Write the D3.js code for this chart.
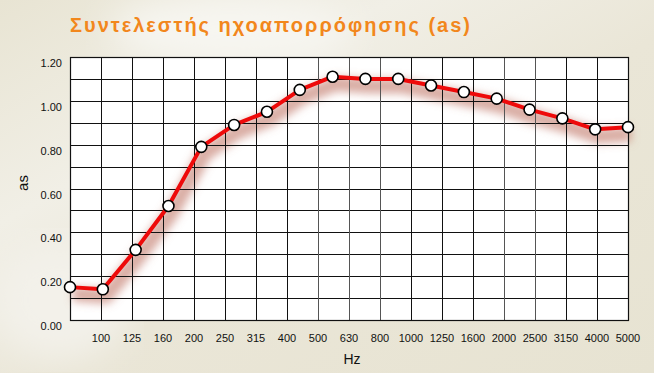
<!DOCTYPE html>
<html>
<head>
<meta charset="utf-8">
<script src="https://cdn.jsdelivr.net/npm/d3@7"></script>
<style>
    body { margin: 0; background: #e9e5d5; }
    svg { display: block; }
</style>
</head>
<body>
<div class="chart"></div>
<script>
//Data
var title = "Συντελεστής ηχοαπορρόφησης (as)";
var frequencies = ["100", "125", "160", "200", "250", "315", "400", "500", "630", "800",
    "1000", "1250", "1600", "2000", "2500", "3150", "4000", "5000"];
var absorption = [0.15, 0.14, 0.32, 0.52, 0.79, 0.89, 0.95, 1.05, 1.11, 1.10,
    1.10, 1.07, 1.04, 1.01, 0.96, 0.92, 0.87, 0.88];
var yTicks = [0, 0.2, 0.4, 0.6, 0.8, 1.0, 1.2];
var yGrid = d3.range(0, 13).map(d => d / 10);

var chart = {
    width: 654,
    height: 373,
    margin: { left: 70, top: 57, right: 26, bottom: 53 },
    init() {
        this.innerW = this.width - this.margin.left - this.margin.right;
        this.innerH = this.height - this.margin.top - this.margin.bottom;

        //Scales: points use their own spacing, the axis has one empty slot at the left
        this.x = d3.scalePoint().domain(frequencies).range([0, this.innerW]);
        this.xAxis = d3.scalePoint().domain([""].concat(frequencies)).range([0, this.innerW]);
        this.y = d3.scaleLinear().domain([0, 1.2]).range([this.innerH, 0]);

        this.svg = d3.select(".chart")
            .append("svg")
            .attr("width", this.width)
            .attr("height", this.height);

        this.drawBackground();
        this.g = this.svg.append("g")
            .attr("transform", `translate(${this.margin.left},${this.margin.top})`);
    },
    drawBackground() {
        const defs = this.svg.append("defs");
        const grad = defs.append("linearGradient")
            .attr("id", "bg").attr("x1", "0").attr("y1", "0").attr("x2", "1").attr("y2", "1");
        grad.append("stop").attr("offset", "0%").attr("stop-color", "#e8e4d3");
        grad.append("stop").attr("offset", "30%").attr("stop-color", "#f1efe6");
        grad.append("stop").attr("offset", "55%").attr("stop-color", "#eae6d7");
        grad.append("stop").attr("offset", "100%").attr("stop-color", "#e7e3d2");

        defs.append("filter").attr("id", "soft")
            .append("feGaussianBlur").attr("stdDeviation", 18);
        defs.append("filter").attr("id", "shadow")
            .attr("x", "-10%").attr("y", "-10%").attr("width", "120%").attr("height", "130%")
            .append("feGaussianBlur").attr("stdDeviation", 4);

        this.svg.append("rect")
            .attr("width", this.width)
            .attr("height", this.height)
            .attr("fill", "url(#bg)");

        //Lighter patches of the paper texture
        this.svg.append("ellipse")
            .attr("cx", 230).attr("cy", 30).attr("rx", 120).attr("ry", 35)
            .attr("fill", "#f7f6f1").attr("filter", "url(#soft)");
        this.svg.append("ellipse")
            .attr("cx", 60).attr("cy", 300).attr("rx", 70).attr("ry", 60)
            .attr("fill", "#f3f1ea").attr("filter", "url(#soft)");
    },
    drawTitle() {
        this.svg.append("text")
            .attr("x", 70)
            .attr("y", 32)
            .attr("font-family", "Liberation Sans, Arial, sans-serif")
            .attr("font-size", 20)
            .attr("font-weight", "bold")
            .attr("letter-spacing", 2)
            .attr("fill", "#f2871c")
            .text(title);
    },
    drawPlot() {
        const g = this.g;
        g.append("rect")
            .attr("width", this.innerW)
            .attr("height", this.innerH)
            .attr("fill", "#ffffff");

        //Blurred shadow under the line
        const line = d3.line()
            .x((d, i) => this.x(frequencies[i]))
            .y(d => this.y(d));
        g.append("path")
            .datum(absorption)
            .attr("d", line)
            .attr("fill", "none")
            .attr("stroke", "#c07565")
            .attr("stroke-opacity", 0.6)
            .attr("stroke-width", 15)
            .attr("stroke-linejoin", "round")
            .attr("transform", "translate(3,7)")
            .attr("filter", "url(#shadow)");

        //Grid
        g.selectAll("line.h")
            .data(yGrid)
            .join("line")
            .attr("class", "h")
            .attr("x1", 0).attr("x2", this.innerW)
            .attr("y1", d => Math.round(this.y(d)) + 0.5)
            .attr("y2", d => Math.round(this.y(d)) + 0.5)
            .attr("stroke", "#111")
            .attr("stroke-width", 1);
        g.selectAll("line.v")
            .data(this.xAxis.domain())
            .join("line")
            .attr("class", "v")
            .attr("y1", 0).attr("y2", this.innerH)
            .attr("x1", d => Math.round(this.xAxis(d)) + 0.5)
            .attr("x2", d => Math.round(this.xAxis(d)) + 0.5)
            .attr("stroke", (d, i) => (i >= 8 && i <= 10) || (i >= 14 && i <= 15) ? "#555" : "#111")
            .attr("stroke-width", 1);
        g.append("rect")
            .attr("x", 0.5).attr("y", 0.5)
            .attr("width", this.innerW).attr("height", this.innerH)
            .attr("fill", "none")
            .attr("stroke", "#111")
            .attr("stroke-width", 1.2);

        //Line and markers
        g.append("path")
            .datum(absorption)
            .attr("d", line)
            .attr("fill", "none")
            .attr("stroke", "#ee0a0a")
            .attr("stroke-width", 4)
            .attr("stroke-linejoin", "round");
        g.selectAll("circle")
            .data(absorption)
            .join("circle")
            .attr("cx", (d, i) => this.x(frequencies[i]))
            .attr("cy", d => this.y(d))
            .attr("r", 5.5)
            .attr("fill", "#ffffff")
            .attr("stroke", "#000")
            .attr("stroke-width", 1.6);
    },
    drawAxes() {
        const g = this.g;
        const font = "Liberation Sans, Arial, sans-serif";

        g.selectAll("text.ytick")
            .data(yTicks)
            .join("text")
            .attr("class", "ytick")
            .attr("x", -8)
            .attr("y", d => this.y(d) + 10)
            .attr("text-anchor", "end")
            .attr("font-family", font)
            .attr("font-size", 11)
            .attr("fill", "#111")
            .text(d => d.toFixed(2));

        g.selectAll("text.xtick")
            .data(frequencies)
            .join("text")
            .attr("class", "xtick")
            .attr("x", d => this.xAxis(d))
            .attr("y", this.innerH + 22)
            .attr("text-anchor", "middle")
            .attr("font-family", font)
            .attr("font-size", 11)
            .attr("fill", "#111")
            .text(d => d);

        this.svg.append("text")
            .attr("x", 352)
            .attr("y", 364)
            .attr("text-anchor", "middle")
            .attr("font-family", font)
            .attr("font-size", 14)
            .attr("fill", "#111")
            .text("Hz");

        this.svg.append("text")
            .attr("transform", "translate(28,183) rotate(-90)")
            .attr("text-anchor", "middle")
            .attr("font-family", font)
            .attr("font-size", 15)
            .attr("fill", "#111")
            .text("as");
    }
};

chart.init();
chart.drawTitle();
chart.drawPlot();
chart.drawAxes();
</script>
</body>
</html>
